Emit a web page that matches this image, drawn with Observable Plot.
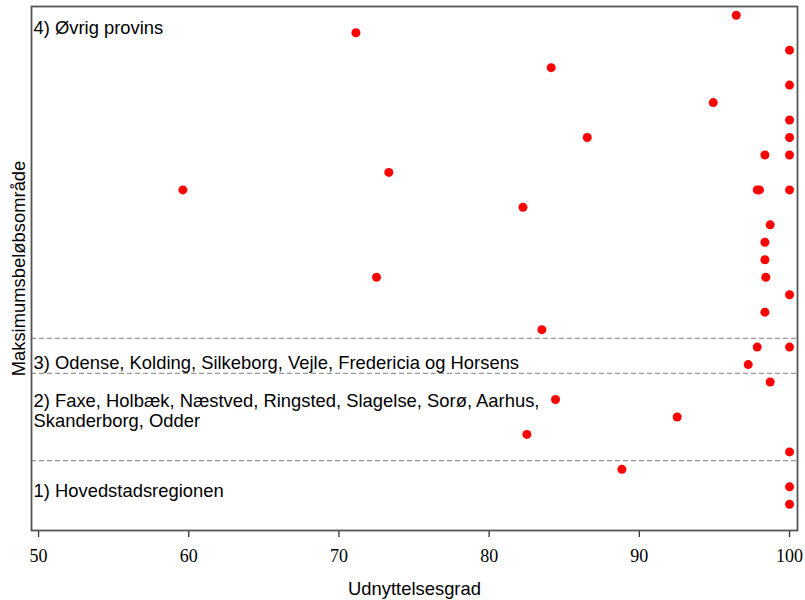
<!DOCTYPE html>
<html>
<head>
<meta charset="utf-8">
<script src="https://cdn.jsdelivr.net/npm/d3@7"></script>
<script src="https://cdn.jsdelivr.net/npm/@observablehq/plot@0.6"></script>
<style>
  html, body { margin: 0; padding: 0; background: #fff; }
</style>
</head>
<body>
<div id="chart"></div>
<script>
// Row index (position on the Maksimumsbeløbsområde axis) of each municipality
const rowIndex = [29,28,27,26,25,24,23,22,22,21,21,20,19,19,19,19,18,17,16,15,14,14,13,12,11,10,10,9,8,7,6,5,4,3,2,1];
// Udnyttelsesgrad (%)
const utilization = [96.45,71.13,100,84.13,100,94.92,100,86.53,100,98.36,100,73.32,59.61,97.85,98.0,100,82.25,98.71,98.36,98.36,72.5,98.42,100,98.36,83.51,97.85,100,97.25,98.71,84.42,92.52,82.51,100,88.84,100,100];
// Group separators
const dividers = [3.5, 8.5, 10.5];
// Group labels and their vertical positions
const groupLabels = [
  "4) Øvrig provins",
  "3) Odense, Kolding, Silkeborg, Vejle, Fredericia og Horsens",
  "2) Faxe, Holbæk, Næstved, Ringsted, Slagelse, Sorø, Aarhus,\nSkanderborg, Odder",
  "1) Hovedstadsregionen"
];
const groupLabelY = [28.27, 9.11, 6.37, 1.79];
const xTicks = [50, 60, 70, 80, 90, 100];

const points = utilization.map((v, i) => ({x: v, y: rowIndex[i]}));
const labels = groupLabels.map((t, i) => ({text: t, y: groupLabelY[i]}));

const sans = "'Liberation Sans', Arial, Helvetica, sans-serif";
const serif = "'Liberation Serif', 'DejaVu Serif', serif";

const chart = Plot.plot({
  width: 805,
  height: 600,
  marginLeft: 31,
  marginRight: 8,
  marginTop: 6,
  marginBottom: 70,
  style: {fontFamily: serif, fontSize: "18px", color: "#000", background: "#fff"},
  x: {domain: [49.53, 100.53], axis: null},
  y: {domain: [-0.5, 29.5], axis: null},
  marks: [
    Plot.ruleY(dividers, {stroke: "#999", strokeWidth: 1.2, strokeDasharray: "5,3"}),
    Plot.tickX(xTicks, {x: d => d, stroke: "#333", strokeWidth: 1.3, insetTop: 517, dy: 7}),
    Plot.frame({stroke: "#555", strokeWidth: 1.8}),
    Plot.text(xTicks, {x: d => d, frameAnchor: "bottom", text: d => String(d), dy: 25.5, lineAnchor: "middle", fontFamily: serif, fontSize: 18, fill: "#000"}),
    Plot.dot(points, {x: "x", y: "y", r: 4.5, fill: "#ff0000", stroke: null}),
    Plot.text(labels, {y: "y", text: "text", frameAnchor: "left", textAnchor: "start", dx: 2, lineAnchor: "middle", lineHeight: 1.1, fontFamily: sans, fontSize: 18.4, fill: "#000"}),
    Plot.text(["Udnyttelsesgrad"], {frameAnchor: "bottom", textAnchor: "middle", dy: 58.8, lineAnchor: "middle", fontFamily: sans, fontSize: 18.4, fill: "#000"}),
    Plot.text(["Maksimumsbeløbsområde"], {frameAnchor: "left", textAnchor: "middle", rotate: -90, dx: -12.8, lineAnchor: "middle", fontFamily: sans, fontSize: 18.4, fill: "#000"})
  ]
});
document.getElementById("chart").appendChild(chart);
</script>
</body>
</html>
